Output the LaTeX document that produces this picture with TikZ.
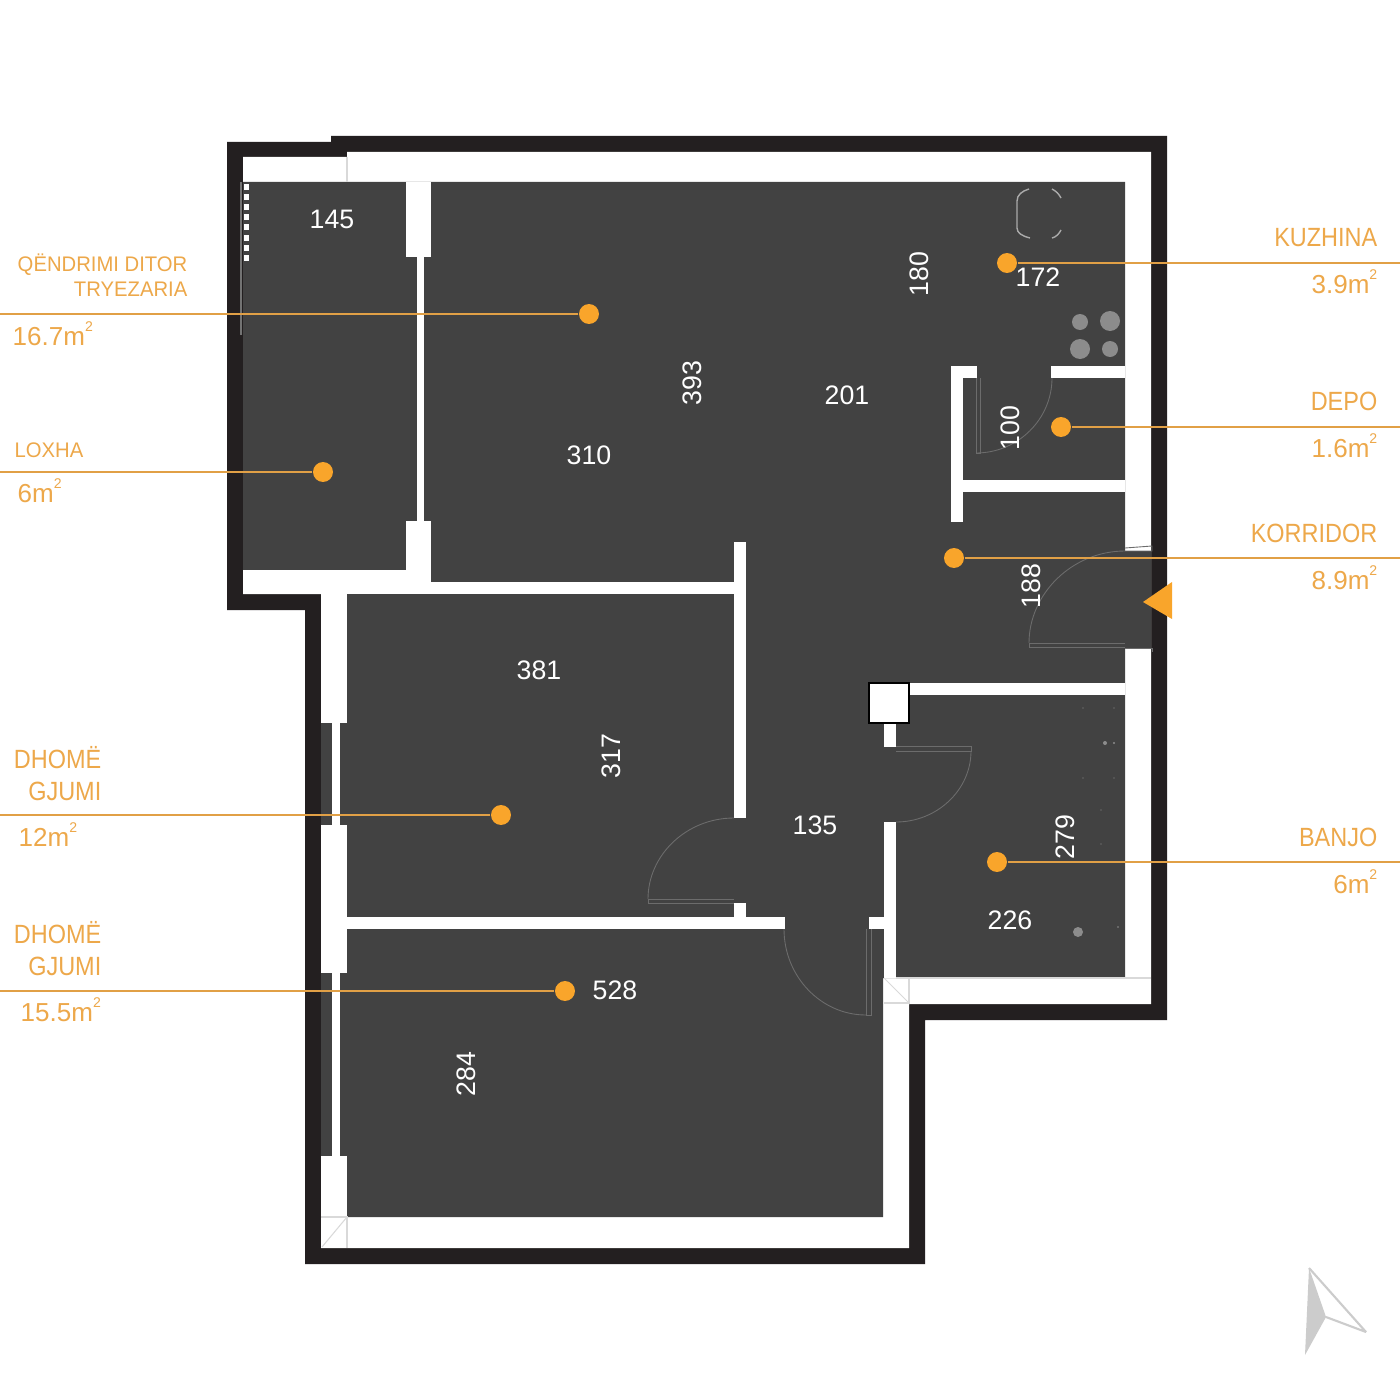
\documentclass[tikz,border=0pt]{standalone}
\usepackage{fontspec}
\setmainfont{Liberation Sans}
\newfontfamily\namefont[FakeStretch=0.89]{Liberation Sans}
\newfontfamily\smallfont[FakeStretch=0.96]{Liberation Sans}
\usetikzlibrary{positioning}
\usepackage{xcolor}
\definecolor{shellblack}{HTML}{231F20}
\definecolor{floorgrey}{HTML}{424242}
\definecolor{tagorange}{HTML}{F9A52B}
\definecolor{textorange}{HTML}{EDA84A}
\definecolor{fixgrey}{HTML}{8C8C8C}
\newcommand{\sqm}{m\raisebox{3.8pt}{\fontsize{4}{5}\selectfont 2}}
\tikzset{
  wall/.style={fill=white},
  doorline/.style={draw=white!22!floorgrey, line width=0.25pt},
  seam/.style={draw=black!15, line width=0.3pt},
  fixture/.style={fill=fixgrey},
  tag/.style={circle, fill=tagorange, inner sep=0pt, minimum size=5.67pt},
  leader/.style={draw=textorange!95!black, line width=0.38pt},
  dim/.style={text=white, inner sep=0pt, font=\fontsize{7.6}{9}\selectfont},
  roomname/.style={text=textorange, inner sep=0pt, text height=5.4pt, text depth=0pt, font=\namefont\fontsize{7.5}{9}\selectfont},
  smallname/.style={text=textorange, inner sep=0pt, text height=4.3pt, text depth=0pt, align=right, font=\smallfont\fontsize{6}{7.1}\selectfont},
  area/.style={text=textorange, inner sep=0pt, text height=5.3pt, text depth=0pt, font=\fontsize{7.4}{9}\selectfont}
}

\begin{document}
\begin{tikzpicture}[x=0.01cm, y=-0.01cm]
  \useasboundingbox (0,0) rectangle (1400,1400);
  \fill[white] (0,0) rectangle (1400,1400);

  % Outer shell
  \fill[shellblack] (227,142) -- (331,142) -- (331,136) -- (1167,136) -- (1167,1020) -- (925,1020)
    -- (925,1264) -- (305,1264) -- (305,610) -- (227,610) -- cycle;
  \fill[white] (243,157) -- (347,157) -- (347,152) -- (1151,152) -- (1151,1004) -- (909,1004)
    -- (909,1248) -- (321,1248) -- (321,594) -- (243,594) -- cycle;

  % Floor
  \fill[floorgrey] (243,182) -- (1125,182) -- (1125,551) -- (1151,551) -- (1151,648) -- (1125,648)
    -- (1125,978) -- (883,978) -- (883,1217) -- (321,1217) -- (321,594) -- (243,594) -- cycle;
  \draw[draw=black!55, line width=0.3pt] (241,182) -- (241,335);

  % Balcony walls
  \fill[wall] (243,570) rectangle (431,594);
  \fill[wall] (406,182) rectangle (431,257);
  \fill[wall] (417,257) rectangle (424,521);
  \fill[wall] (406,521) rectangle (431,570);
  \fill[wall] (244,184) rectangle (249,190);
  \fill[wall] (244,194) rectangle (249,200);
  \fill[wall] (244,204) rectangle (249,210);
  \fill[wall] (244,214) rectangle (249,220);
  \fill[wall] (244,224) rectangle (249,230);
  \fill[wall] (244,235) rectangle (249,241);
  \fill[wall] (244,245) rectangle (249,251);
  \fill[wall] (244,255) rectangle (249,261);

  % Bedroom walls
  \fill[wall] (431,582) rectangle (746,594);
  \fill[wall] (734,542) rectangle (746,818);
  \fill[wall] (734,903) rectangle (746,917);
  \fill[wall] (321,594) rectangle (347,723);
  \fill[wall] (332,723) rectangle (340,825);
  \fill[wall] (321,825) rectangle (347,973);
  \fill[wall] (332,973) rectangle (340,1156);
  \fill[wall] (321,1156) rectangle (347,1217);
  \fill[wall] (347,917) rectangle (785,929);

  % Kitchen and storage walls
  \fill[wall] (951,366) rectangle (977,378);
  \fill[wall] (951,378) rectangle (963,522);
  \fill[wall] (1051,366) rectangle (1125,378);
  \fill[wall] (963,480) rectangle (1125,492);

  % Bathroom walls
  \fill[wall] (909,683) rectangle (1125,695);
  \fill[wall] (884,723) rectangle (896,747);
  \fill[wall] (884,822) rectangle (896,978);
  \fill[wall] (869,917) rectangle (884,929);
  \draw[fill=white, draw=black, line width=0.4pt] (869,683) rectangle (909,723);

  % Corner seams
  \draw[seam] (347,157) -- (347,182);
  \draw[seam] (321,1217) -- (347,1217) -- (347,1248);
  \draw[seam] (347,1217) -- (322,1247);
  \draw[seam] (884,978) -- (909,1003);
  \draw[seam] (909,978) -- (909,1003) -- (884,1003);
  \draw[seam] (896,978) -- (1151,978);

  % Doors
  \draw[doorline] (734,899) -- (648,899) -- (648,903) -- (734,903);
  \draw[doorline] (734,818) .. controls (686.5,818) and (648,855) .. (648,899);
  \draw[doorline] (866,929) -- (866,1015) -- (871,1015) -- (871,929);
  \draw[doorline] (784,929) .. controls (784,976.5) and (821,1015) .. (866,1015);
  \draw[doorline] (896,746) -- (971,746) -- (971,751) -- (896,751);
  \draw[doorline] (971,751) .. controls (971,790) and (937,822) .. (896,822);
  \draw[doorline] (976,378) -- (976,453) -- (980,453) -- (980,378);
  \draw[doorline] (1052,378) .. controls (1052,419) and (1018,453) .. (976,453);
  \draw[doorline] (1125,643) -- (1029,643) -- (1029,647) -- (1125,647);
  \draw[doorline] (1125,551) .. controls (1072,551) and (1029,594) .. (1029,643);
  \draw[doorline] (1125,548) -- (1152,546) -- (1152,551) -- (1125,551);
  \draw[doorline] (1125,648) -- (1152,648) -- (1152,652);

  % Kitchen fixtures
  \fill[fixture] (1080,322) circle (8);
  \fill[fixture] (1110,321) circle (10);
  \fill[fixture] (1080,349) circle (10);
  \fill[fixture] (1110,349) circle (8);
  \draw[draw=white!55!floorgrey, line width=0.4pt] (1029,189) .. controls (1022,191) and (1017,195) .. (1017,201) -- (1017,228)
    .. controls (1017,233) and (1022,236) .. (1030,238);
  \draw[draw=white!55!floorgrey, line width=0.4pt] (1052,189) .. controls (1056,191) and (1059,194) .. (1061,198);
  \draw[draw=white!55!floorgrey, line width=0.4pt] (1052,238) .. controls (1056,237) and (1059,234) .. (1061,230);

  % Bathroom fixtures
  \fill[fixture] (1078,932) circle (5);
  \fill[fixture] (1105,743) circle (2);
  \fill[fixture] (1114,743) circle (1.2);
  \fill[fixture] (1083,708) circle (0.6);
  \fill[fixture] (1114,708) circle (0.6);
  \fill[fixture] (1083,778) circle (0.6);
  \fill[fixture] (1114,778) circle (0.6);
  \fill[fixture] (1101,810) circle (0.6);
  \fill[fixture] (1101,844) circle (0.6);
  \fill[fixture] (1118,927) circle (0.8);

  % Room dimensions
  \node[dim] (d145) at (332,219) {145};
  \node[dim] (d172) at (1038,277) {172};
  \node[dim, rotate=90] (d180) at (919,274) {180};
  \node[dim, rotate=90] (d393) at (692,383) {393};
  \node[dim] (d201) at (847,395) {201};
  \node[dim, rotate=90] (d100) at (1010,428) {100};
  \node[dim] (d310) at (589,455) {310};
  \node[dim, rotate=90] (d188) at (1031,586) {188};
  \node[dim] (d381) at (539,670) {381};
  \node[dim, rotate=90] (d317) at (611,756) {317};
  \node[dim] (d135) at (815,825) {135};
  \node[dim, rotate=90] (d279) at (1065,837) {279};
  \node[dim] (d226) at (1010,920) {226};
  \node[dim] (d528) at (615,990) {528};
  \node[dim, rotate=90] (d284) at (466,1074) {284};

  % Room tags
  \node[tag] (living) at (589,314) {};
  \node[tag] (balcony) at (323,472) {};
  \node[tag] (bed1) at (501,815) {};
  \node[tag] (bed2) at (565,991) {};
  \node[tag] (kitchen) at (1007,263) {};
  \node[tag] (storage) at (1061,427) {};
  \node[tag] (hall) at (954,558) {};
  \node[tag] (bath) at (997,862) {};

  \coordinate (livingend) at (0,314);
  \coordinate (balconyend) at (0,472);
  \coordinate (bed1end) at (0,815);
  \coordinate (bed2end) at (0,991);
  \coordinate (kitchenend) at (1400,263);
  \coordinate (storageend) at (1400,427);
  \coordinate (hallend) at (1400,558);
  \coordinate (bathend) at (1400,862);

  \draw[leader] (living) -- (livingend);
  \draw[leader] (balcony) -- (balconyend);
  \draw[leader] (bed1) -- (bed1end);
  \draw[leader] (bed2) -- (bed2end);
  \draw[leader] (kitchen) -- (kitchenend);
  \draw[leader] (storage) -- (storageend);
  \draw[leader] (hall) -- (hallend);
  \draw[leader] (bath) -- (bathend);

  % Left names
  \node[smallname, anchor=east] (livingname) at (188,289) {QËNDRIMI DITOR\\TRYEZARIA};
  \node[area, anchor=west] (livingarea) at (12,336) {16.7\sqm};
  \node[smallname, anchor=west] (balconyname) at (14,450) {LOXHA};
  \node[area, anchor=west] (balconyarea) at (17,493) {6\sqm};
  \node[roomname, anchor=east, align=right] (bed1name) at (102,791) {DHOMË\\GJUMI};
  \node[area, anchor=west] (bed1area) at (18,837) {12\sqm};
  \node[roomname, anchor=east, align=right] (bed2name) at (102,966) {DHOMË\\GJUMI};
  \node[area, anchor=west] (bed2area) at (20,1012) {15.5\sqm};

  % Right names
  \node[roomname, anchor=east] (kitchenname) at (1378,237) {KUZHINA};
  \node[area, anchor=east] (kitchenarea) at (1378,284) {3.9\sqm};
  \node[roomname, anchor=east] (storagename) at (1378,401) {DEPO};
  \node[area, anchor=east] (storagearea) at (1378,448) {1.6\sqm};
  \node[roomname, anchor=east] (hallname) at (1378,533) {KORRIDOR};
  \node[area, anchor=east] (hallarea) at (1378,580) {8.9\sqm};
  \node[roomname, anchor=east] (bathname) at (1378,837) {BANJO};
  \node[area, anchor=east] (batharea) at (1378,884) {6\sqm};

  % Entry arrow and compass
  \fill[tagorange] (1143,602) -- (1172,582) -- (1172,619) -- cycle;
  \fill[black!20] (1309,1268) -- (1326,1317) -- (1305,1355) -- cycle;
  \draw[draw=black!20, line width=0.6pt, line join=bevel] (1309,1268) -- (1366,1332) -- (1326,1317);
\end{tikzpicture}
\end{document}
